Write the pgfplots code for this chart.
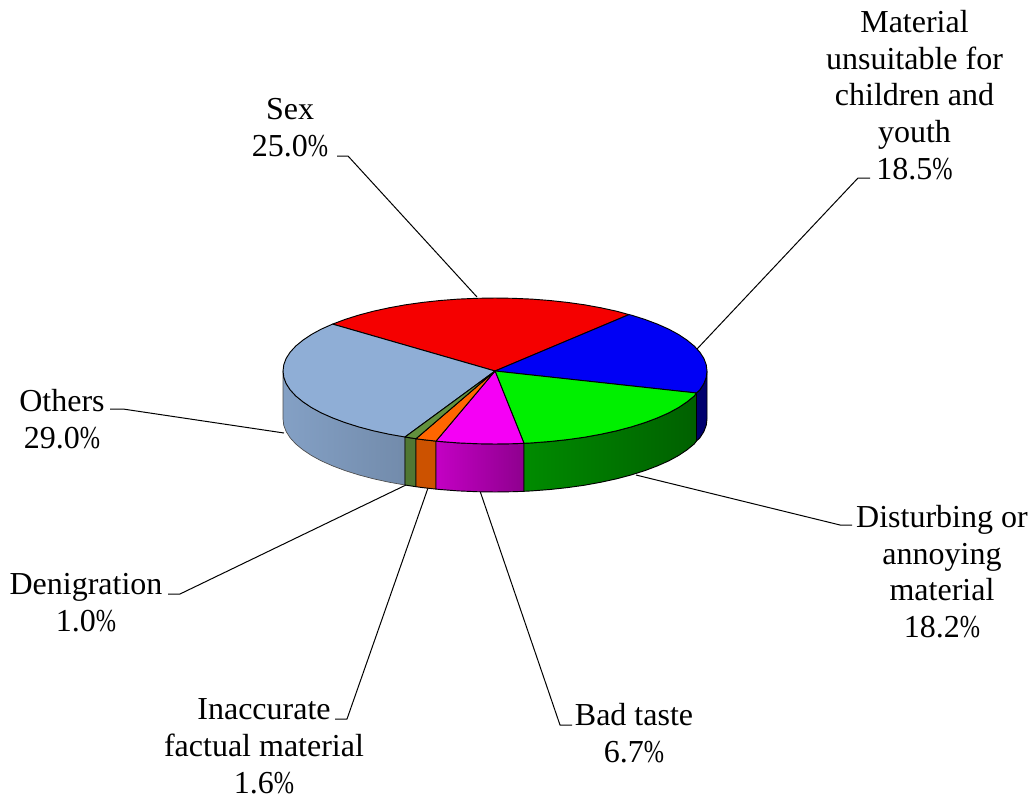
\documentclass[border=0pt]{standalone}
\usepackage{graphicx}
\usepackage{pgfplots}
\pgfplotsset{compat=1.18}
\usepackage{fontspec}
\setmainfont{Liberation Serif}
\definecolor{cRed}{RGB}{245,0,0}
\definecolor{cBlue}{RGB}{0,0,245}
\definecolor{cGreen}{RGB}{0,240,0}
\definecolor{cMag}{RGB}{245,0,245}
\definecolor{cOra}{RGB}{255,102,0}
\definecolor{cDk}{RGB}{98,145,62}
\definecolor{cOth}{RGB}{143,174,214}
\newcommand{\pc}{\scalebox{0.76}[1]{\%}}
\tikzset{lbl/.style={font=\fontsize{24}{27.4}\selectfont,align=center,text=black,inner sep=0pt,anchor=base}}
\begin{document}
\begin{tikzpicture}
\path[use as bounding box] (0,0) rectangle (777pt,600pt);
\begin{axis}[at={(0,0)},anchor=south west,scale only axis,width=777pt,height=600pt,
  xmin=0,xmax=1036,ymin=0,ymax=800,y dir=reverse,axis lines=none,clip=false,
  every axis plot/.append style={line join=round}]
% leader lines
\addplot[black,line width=0.75pt] coordinates {(337,156)(348,156)(477,297)};
\addplot[black,line width=0.75pt] coordinates {(870,178)(858,178)(697,349)};
\addplot[black,line width=0.75pt] coordinates {(636,475)(840,525)(852,525)};
\addplot[black,line width=0.75pt] coordinates {(480,491)(560,725)(572,725)};
\addplot[black,line width=0.75pt] coordinates {(428,488)(347,719)(335,719)};
\addplot[black,line width=0.75pt] coordinates {(408,484)(180,594)(168,594)};
\addplot[black,line width=0.75pt] coordinates {(284,433)(123,409)(110,409)};
% walls
\addplot[left color=cOth!92!black,middle color=cOth!92!black,right color=cOth!80!black,draw=black!70,line width=0.5pt] coordinates {
(283,371)(283.8,377.4)(286.2,383.7)(290.2,389.9)(295.8,396)(302.9,401.8)(311.4,407.5)(321.3,412.9)(332.6,417.9)(345.1,422.6)(358.7,426.9)(373.4,430.8)(389,434.2)(405,437)
(405,485)(389,482.2)(373.4,478.8)(358.7,474.9)(345.1,470.6)(332.6,465.9)(321.3,460.9)(311.4,455.5)(302.9,449.8)(295.8,444)(290.2,437.9)(286.2,431.7)(283.8,425.4)(283,419)} --cycle;
\addplot[fill=cDk!82!black,draw=black,line width=0.7pt] coordinates {(405,437)(416,438.7)(416,486.7)(405,485)} --cycle;
\addplot[fill=cOra!80!black,draw=black,line width=0.7pt] coordinates {(416,438.7)(422.5,439.6)(436,441.1)(436,489.1)(422.5,487.6)(416,486.7)} --cycle;
\addplot[left color=cMag!80!black,right color=cMag!58!black,draw=black,line width=0.7pt] coordinates {
(436,441.1)(440.1,441.5)(458.2,442.9)(476.5,443.7)(495,444)(513.5,443.7)(524,443.3)(524,491.3)(513.5,491.7)(495,492)(476.5,491.7)(458.2,490.9)(440.1,489.5)(436,489.1)} --cycle;
\addplot[left color=cGreen!58!black,middle color=cGreen!42!black,right color=cGreen!40!black,draw=black,line width=0.7pt] coordinates {
(524,443.3)(531.8,442.9)(549.9,441.5)(567.5,439.6)(584.6,437.2)(601,434.2)(616.6,430.8)(631.3,426.9)(644.9,422.6)(657.4,417.9)(668.7,412.9)(678.6,407.5)(687.1,401.8)(694.2,396)(696.5,393)
(696.5,441)(694.2,444)(687.1,449.8)(678.6,455.5)(668.7,460.9)(657.4,465.9)(644.9,470.6)(631.3,474.9)(616.6,478.8)(601,482.2)(584.6,485.2)(567.5,487.6)(549.9,489.5)(531.8,490.9)(524,491.3)} --cycle;
\addplot[fill=cBlue!45!black,draw=black,line width=0.7pt] coordinates {
(696.5,393)(699.8,389.9)(703.8,383.7)(706.2,377.4)(707,371)(707,419)(706.2,425.4)(703.8,431.7)(699.8,437.9)(696.5,441)} --cycle;
% top slices
\addplot[fill=cRed,draw=black,line width=0.7pt] coordinates {
(495,371)(629,314.6)(616.6,311.2)(601,307.8)(584.6,304.8)(567.5,302.4)(549.9,300.5)(531.8,299.1)(513.5,298.3)(495,298)(476.5,298.3)(458.2,299.1)(440.1,300.5)(422.5,302.4)(405.4,304.8)(389,307.8)(373.4,311.2)(358.7,315.1)(345.1,319.4)(332.6,324.1)} --cycle;
\addplot[fill=cOth,draw=black,line width=0.7pt] coordinates {
(495,371)(332.6,324.1)(321.3,329.1)(311.4,334.5)(302.9,340.2)(295.8,346)(290.2,352.1)(286.2,358.3)(283.8,364.6)(283,371)(283.8,377.4)(286.2,383.7)(290.2,389.9)(295.8,396)(302.9,401.8)(311.4,407.5)(321.3,412.9)(332.6,417.9)(345.1,422.6)(358.7,426.9)(373.4,430.8)(389,434.2)(405,437)} --cycle;
\addplot[fill=cBlue,draw=black,line width=0.7pt] coordinates {
(495,371)(696.5,393)(699.8,389.9)(703.8,383.7)(706.2,377.4)(707,371)(706.2,364.6)(703.8,358.3)(699.8,352.1)(694.2,346)(687.1,340.2)(678.6,334.5)(668.7,329.1)(657.4,324.1)(644.9,319.4)(631.3,315.1)(629,314.6)} --cycle;
\addplot[fill=cGreen,draw=black,line width=0.7pt] coordinates {
(495,371)(524,443.3)(531.8,442.9)(549.9,441.5)(567.5,439.6)(584.6,437.2)(601,434.2)(616.6,430.8)(631.3,426.9)(644.9,422.6)(657.4,417.9)(668.7,412.9)(678.6,407.5)(687.1,401.8)(694.2,396)(696.5,393)} --cycle;
\addplot[fill=cMag,draw=black,line width=0.7pt] coordinates {
(495,371)(436,441.1)(440.1,441.5)(458.2,442.9)(476.5,443.7)(495,444)(513.5,443.7)(524,443.3)} --cycle;
\addplot[fill=cOra,draw=black,line width=0.7pt] coordinates {(495,371)(416,438.7)(422.5,439.6)(436,441.1)} --cycle;
\addplot[fill=cDk,draw=black,line width=0.7pt] coordinates {(495,371)(405,437)(416,438.7)} --cycle;
% labels
\node[lbl] at (axis cs:290,156) {Sex\\25.0\pc};
\node[lbl] at (axis cs:914.5,179) {Material\\unsuitable for\\children and\\youth\\18.5\pc};
\node[lbl] at (axis cs:942,637.5) {Disturbing or\\annoying\\material\\18.2\pc};
\node[lbl] at (axis cs:634,762.5) {Bad taste\\6.7\pc};
\node[lbl] at (axis cs:264,793) {Inaccurate\\factual material\\1.6\pc};
\node[lbl] at (axis cs:86,631) {Denigration\\1.0\pc};
\node[lbl] at (axis cs:62,448) {Others\\29.0\pc};
\end{axis}
\end{tikzpicture}
\end{document}
